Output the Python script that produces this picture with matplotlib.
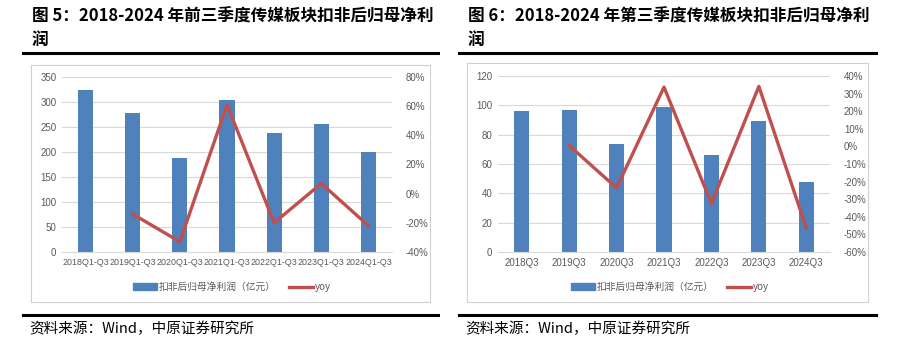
import matplotlib
matplotlib.use('Agg')
import matplotlib.pyplot as plt
from matplotlib.lines import Line2D
from matplotlib.patches import Patch, Rectangle
from matplotlib.ticker import PercentFormatter
import numpy as np

plt.rcParams['font.family'] = ['Noto Sans CJK SC', 'DejaVu Sans']
plt.rcParams['axes.unicode_minus'] = False

W, H = 905, 350

# 前三季度
labels_ytd = ['2018Q1-Q3', '2019Q1-Q3', '2020Q1-Q3', '2021Q1-Q3',
              '2022Q1-Q3', '2023Q1-Q3', '2024Q1-Q3']
profit_ytd = [325, 279, 188, 304, 239, 257, 201]
yoy_ytd = [np.nan, -14, -33, 61, -20, 7, -22]

# 第三季度
labels_q3 = ['2018Q3', '2019Q3', '2020Q3', '2021Q3', '2022Q3', '2023Q3', '2024Q3']
profit_q3 = [95.9, 96.6, 73.9, 98.9, 66.4, 89.3, 48.0]
yoy_q3 = [np.nan, 0.5, -23.6, 33.7, -32.5, 34.1, -46.4]

BLUE = '#4F81BD'
RED = '#C0504D'
GRID = '#D9D9D9'
TXT = '#595959'
TICK_FONT = ['Liberation Sans', 'Noto Sans CJK SC']


def fx(x):
    return x / W


def fy(y):
    return 1 - y / H


def hline(fig, x0, x1, y, lw=2.2, color='black'):
    fig.add_artist(Line2D([fx(x0), fx(x1)], [fy(y), fy(y)], lw=lw, color=color))


def panel(fig, box, plot, title1, title2, cats, bars, yoy, ylim, ystep, rlim, rstep,
          legend_x, xfs=7):
    bx0, by0, bx1, by1 = box
    # 外框
    fig.add_artist(Rectangle((fx(bx0), fy(by1)), fx(bx1 - bx0), (by1 - by0) / H,
                             fill=False, ec='#D0D0D0', lw=0.8))
    # 标题与分隔线
    fig.text(fx(bx0 + 1), fy(17), title1, fontsize=12, fontweight='bold', va='center', ha='left')
    fig.text(fx(bx0 + 1), fy(40), title2, fontsize=12, fontweight='bold', va='center', ha='left')
    hline(fig, bx0 - 8, bx1 + 8, 53)
    hline(fig, bx0 - 8, bx1 + 8, 315)
    fig.text(fx(bx0 - 2), fy(329), '资料来源：Wind，中原证券研究所', fontsize=10.5,
             va='center', ha='left', family=['Noto Sans CJK SC', 'DejaVu Sans'])

    px0, py0, px1, py1 = plot
    ax = fig.add_axes([fx(px0), fy(py1), fx(px1 - px0), (py1 - py0) / H])
    x = np.arange(len(cats))
    ax.bar(x, bars, width=0.32, color=BLUE, zorder=2)
    ax.set_xlim(-0.5, len(cats) - 0.5)
    ax.set_ylim(*ylim)
    ax.set_yticks(np.arange(ylim[0], ylim[1] + ystep / 2, ystep))
    ax.set_xticks(x)
    ax.set_xticklabels(cats, family=TICK_FONT, fontsize=xfs, color=TXT)
    ax.grid(axis='y', color=GRID, lw=0.8, zorder=0)
    ax.set_axisbelow(True)
    for s in ax.spines.values():
        s.set_visible(False)
    ax.spines['bottom'].set_visible(True)
    ax.spines['bottom'].set_color(GRID)
    ax.tick_params(length=0, labelsize=7, labelcolor=TXT, pad=4)
    ax.tick_params(axis='x', labelsize=xfs)
    for t in ax.get_yticklabels():
        t.set_family(TICK_FONT)

    ax2 = ax.twinx()
    ax2.plot(x, yoy, color=RED, lw=2.4, zorder=3)
    ax2.set_ylim(*rlim)
    ax2.set_yticks(np.arange(rlim[0], rlim[1] + rstep / 2, rstep))
    ax2.yaxis.set_major_formatter(PercentFormatter(decimals=0))
    for s in ax2.spines.values():
        s.set_visible(False)
    ax2.tick_params(length=0, labelsize=7, labelcolor=TXT, pad=10)
    for t in ax2.get_yticklabels():
        t.set_family(TICK_FONT)

    handles = [Patch(color=BLUE, label='扣非后归母净利润（亿元）'),
               Line2D([0], [0], color=RED, lw=2.4, label='yoy')]
    leg = fig.legend(handles=handles, loc='center', bbox_to_anchor=(fx(legend_x), fy(287)),
                     ncol=2, frameon=False, fontsize=7, handlelength=2.4, handleheight=0.6,
                     handletextpad=0.2, columnspacing=1.4)
    for t in leg.get_texts():
        t.set_color(TXT)
    return ax


fig = plt.figure(figsize=(W / 100, H / 100), dpi=100)

panel(fig, (31, 65, 430, 302), (62, 77, 392, 252),
      '图 5：2018-2024 年前三季度传媒板块扣非后归母净利', '润',
      labels_ytd, profit_ytd, yoy_ytd, (0, 350), 50, (-40, 80), 20, 232, xfs=6.4)

panel(fig, (467, 63, 868, 302), (498, 76, 830, 252),
      '图 6：2018-2024 年第三季度传媒板块扣非后归母净利', '润',
      labels_q3, profit_q3, yoy_q3, (0, 120), 20, (-60, 40), 10, 670)

fig.savefig('out.png', dpi=100)
